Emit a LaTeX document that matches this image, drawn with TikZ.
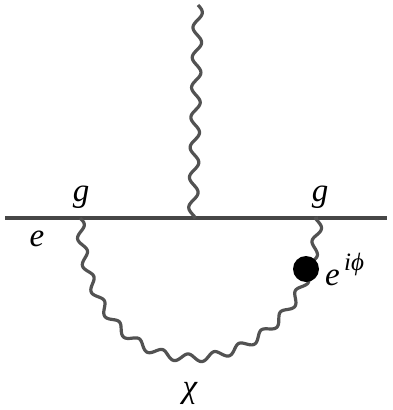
\documentclass[tikz,border=0pt]{standalone}
\usepackage{fontspec}
\setmainfont{Liberation Serif}
\usetikzlibrary{decorations}
\pgfdeclaredecoration{fineWave}{run}{
  \state{run}[width=1pt]{
    \pgfpathlineto{\pgfpoint{0pt}{\pgfdecorationsegmentamplitude*sin(\pgfdecoratedcompleteddistance/\pgfdecorationsegmentlength*360)}}
  }
  \state{final}{\pgfpathlineto{\pgfpointdecoratedpathlast}}
}
\tikzset{
  fermion/.style={line width=3.4pt,draw=black!72},
  photon/.style={line width=3.2pt,draw=black!68,line join=round,decorate,decoration={fineWave,segment length=30pt,amplitude=4.5pt}},
  lab/.style={inner sep=0pt,font=\fontsize{33}{33}\selectfont\itshape},
}
\begin{document}
\begin{tikzpicture}[x=1pt,y=-1pt]
\useasboundingbox[fill=white] (0,0) rectangle (393,410);
\coordinate (L) at (5,218);
\coordinate (R) at (387,218);
\coordinate (T) at (198,5);
\coordinate (M) at (193,218);
\coordinate (A) at (80,218);
\coordinate (B) at (318,218);
\draw[fermion] (L) -- (R);
\draw[photon] (T) -- (M);
\draw[photon,decoration={segment length=27pt,amplitude=4pt}] (A) .. controls (84,320) and (140,358) .. (192,358) .. controls (250,358) and (316,310) .. (B);
\node[circle,fill=black,minimum size=26pt,inner sep=0pt] (dot) at (306,269) {};
\node[lab] (g1) at (81,197) {g};
\node[lab] (g2) at (320,197) {g};
\node[lab] (e) at (37,239) {e};
\node[lab,anchor=west] (phase) at (325,278) {e};
\node[inner sep=0pt,font=\fontsize{25}{25}\selectfont\itshape] (sup) at (354,264) {iϕ};
\node[lab] (chi) at (190,393) {χ};
\end{tikzpicture}
\end{document}
